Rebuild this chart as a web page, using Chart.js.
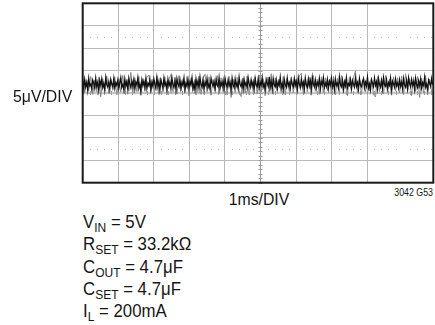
<!DOCTYPE html>
<html><head><meta charset="utf-8">
<script src="https://cdn.jsdelivr.net/npm/chart.js@4/dist/chart.umd.min.js"></script>
<style>
html,body{margin:0;padding:0;background:#fff;}
#wrap{position:relative;width:435px;height:325px;overflow:hidden;font-family:"Liberation Sans",Arial,Helvetica,sans-serif;color:#151515;}
#box{position:absolute;left:0;top:0;width:435px;height:186px;}
.lbl{position:absolute;white-space:nowrap;font-size:17px;line-height:17px;transform:scaleX(0.93);}
#ylab{transform-origin:left top;}
#xlab{transform-origin:center top;}
#code{font-size:10px;line-height:10px;transform:scaleX(0.88);transform-origin:right top;}
#cond{position:absolute;left:83px;top:211px;font-size:17.5px;line-height:22.3px;white-space:nowrap;transform:scaleX(0.96);transform-origin:left top;}
#cond sub{font-size:12.5px;vertical-align:-4px;line-height:0;}
</style></head>
<body><div id="wrap">
<div id="box"><canvas id="c"></canvas></div>
<div class="lbl" id="ylab" style="left:12.5px;top:87.5px;"></div>
<div class="lbl" id="xlab" style="left:222px;width:74px;text-align:center;top:191px;"></div>
<div class="lbl" id="code" style="right:2px;top:188px;"></div>
<div id="cond"></div>
</div>
<script>
// ---- chart text ----
const yDivLabel = "5μV/DIV";
const xDivLabel = "1ms/DIV";
const figureCode = "3042 G53";
const conditions = [
  ["V", "IN", " = 5V"],
  ["R", "SET", " = 33.2kΩ"],
  ["C", "OUT", " = 4.7μF"],
  ["C", "SET", " = 4.7μF"],
  ["I", "L", " = 200mA"]
];

// ---- scope settings (divisions) ----
const yPerDiv = 5;          // μV per division
const yDivs = [-4, 4];      // vertical divisions shown
const xDivsShown = 9.86;    // ms shown (right edge of screen)
const darkStepMs = 0.0282;  // sample interval of dark trace
const grayStepMs = 0.0564;  // sample interval of gray (peak) trace

// ---- noise trace values (μV) ----
const darkTrace = [
2.7,1.0,3.0,1.4,2.3,0.6,3.2,1.6,2.0,0.9,2.9,2.2,1.1,3.3,1.5,2.4,0.6,2.8,1.7,3.1,1.2,2.1,0.8,3.4,1.8,1.3,2.5,0.9,3.0,2.0,1.4,3.2,1.1,2.3,1.7,
2.9,1.0,2.2,3.4,1.3,1.9,0.7,3.1,1.6,2.5,0.8,3.3,2.1,1.2,2.7,1.5,3.0,0.9,2.4,1.8,3.4,1.1,2.0,0.5,2.9,1.7,2.6,1.3,3.2,1.0,2.2,1.6,3.0,0.8,2.4,
1.5,3.1,1.9,1.1,3.4,1.4,2.6,0.7,2.9,2.1,1.2,3.3,1.7,2.3,0.9,3.0,1.6,2.5,1.0,3.4,1.8,1.3,2.7,0.8,3.2,2.0,1.4,2.9,1.1,2.4,1.7,3.3,0.9,2.2,1.5,
3.0,1.2,2.5,1.8,3.4,1.0,2.1,0.6,3.1,1.6,2.7,1.1,3.5,1.9,1.3,2.9,0.8,2.4,1.7,3.2,1.2,2.0,0.9,3.3,2.2,1.5,2.6,1.0,3.0,1.8,1.4,3.4,1.1,2.3,1.6,
2.8,0.9,3.2,2.0,1.3,2.9,1.6,2.4,0.7,3.3,1.8,1.2,3.1,1.5,2.2,1.0,3.5,1.9,1.4,2.6,0.8,3.0,1.7,2.3,1.1,3.4,2.1,1.3,2.9,1.6,2.5,0.9,3.2,1.8,1.4,
3.1,1.1,2.4,1.7,3.4,1.3,2.0,0.8,3.0,2.2,1.5,3.6,1.2,2.6,0.9,3.2,1.8,1.4,2.9,1.0,2.5,1.7,3.5,1.2,2.1,0.7,3.1,1.9,1.3,3.3,1.6,2.3,1.0,2.9,2.0,
1.4,3.2,1.7,2.6,0.9,3.4,2.1,1.2,3.0,1.5,2.4,0.8,3.3,1.8,1.3,3.1,1.6,2.8,1.0,3.5,2.0,1.4,2.9,1.1,2.3,1.7,3.2,0.9,2.5,1.8,3.4,1.2,2.2,1.5,3.0,
1.0,2.6,1.8,3.3,1.3,2.4,0.8,3.1,1.7,2.2,1.1,3.6,1.9,1.4,2.9,0.9,2.5,1.6,3.4,1.2,2.1,1.7,3.0,1.0,2.8,2.0,1.3,3.3,1.5,2.3,0.8,3.2,1.8,1.4,2.6,
3.1,1.2,2.4,1.6,3.5,1.1,2.0,0.7,2.9,2.2,1.4,3.3,1.7,2.5,0.9,3.2,1.9,1.3,2.8,1.0,3.4,1.8,1.5,3.0,1.1,2.3,1.7,3.3,0.8,2.6,2.0,1.3,3.1,1.6,2.2,
1.1,2.9,1.5,2.4,0.9,3.2,1.8,1.3,2.8,1.0,3.4,2.1,1.4,3.0,1.7,2.5,0.8,3.3,1.9,1.2,2.7,1.6,3.1,1.1,2.3,1.7,3.5,1.3,2.0,0.9,2.9,2.2,1.5,3.2,1.8
];
const grayTrace = [
3.4,0.1,3.0,0.5,3.7,-0.3,2.9,0.3,3.5,-0.8,3.2,0.4,3.8,-0.1,3.1,0.6,3.6,-0.4,3.3,0.2,3.9,-0.2,3.0,0.5,4.6,
0.0,3.4,0.3,3.7,-0.5,3.2,0.4,3.5,4.0,0.1,3.1,0.5,3.8,-0.3,3.3,0.2,3.6,-0.4,3.0,4.1,0.3,3.5,-0.2,3.9,0.4,
3.2,0.0,3.7,-0.6,3.4,0.5,3.1,0.1,3.8,-0.3,3.3,4.2,0.2,3.6,-0.5,3.0,0.4,3.9,-0.2,3.4,0.3,3.2,-0.4,3.7,-1.0,
3.1,0.1,3.5,0.5,-0.8,3.3,0.0,3.8,-0.4,3.0,0.4,3.6,-0.2,3.9,0.2,3.2,-0.6,3.5,0.3,4.3,-0.3,3.4,0.5,3.1,0.1,
3.7,-0.4,3.3,0.4,3.6,0.0,3.0,0.3,3.8,4.4,-0.2,3.2,0.2,3.5,-0.5,3.9,0.4,3.1,-0.3,3.6,0.1,3.4,0.5,3.0,-0.2,
3.7,-0.4,3.3,0.3,3.9,0.0,3.1,-0.6,3.6,0.4,3.4,4.9,0.1,3.2,-0.3,3.8,0.2,3.0,0.5,3.5,-0.4,-0.9,3.7,0.3,3.3,
-0.2,3.9,0.1,3.1,-0.5,3.6,0.4,3.4,0.0,3.8,-0.3,4.3,0.2,3.2,-0.6,3.5,0.3,3.7,-1.0,3.3,0.0,3.9,-0.4,3.1,0.2
];

// ---- text ----
document.getElementById('ylab').textContent = yDivLabel;
document.getElementById('xlab').textContent = xDivLabel;
document.getElementById('code').textContent = figureCode;
const condEl = document.getElementById('cond');
conditions.forEach((c, i) => {
  if (i) condEl.appendChild(document.createElement('br'));
  condEl.appendChild(document.createTextNode(c[0]));
  const s = document.createElement('sub'); s.textContent = c[1]; condEl.appendChild(s);
  condEl.appendChild(document.createTextNode(c[2]));
});

const toPoints = (arr, dt) => arr.map((v, i) => ({x: i * dt, y: v}));

const graticule = {
  id: 'graticule',
  beforeDatasetsDraw(chart) {
    const {ctx, chartArea: a, scales: {x, y}} = chart;
    ctx.save();
    const y0 = y.getPixelForValue(0);
    const x5 = x.getPixelForValue(5);
    // center horizontal band
    ctx.strokeStyle = '#c6c6c6'; ctx.lineWidth = 2.5;
    ctx.beginPath(); ctx.moveTo(a.left, y0); ctx.lineTo(a.right, y0); ctx.stroke();
    // center vertical with minor ticks
    ctx.strokeStyle = '#9c9c9c'; ctx.lineWidth = 1;
    ctx.beginPath(); ctx.moveTo(Math.round(x5) + 0.5, a.top); ctx.lineTo(Math.round(x5) + 0.5, a.bottom); ctx.stroke();
    ctx.beginPath();
    for (let k = yDivs[0] * 5; k <= yDivs[1] * 5; k++) {
      const py = Math.round(y.getPixelForValue(k * yPerDiv / 5)) + 0.5;
      ctx.moveTo(Math.round(x5) - 1.5, py); ctx.lineTo(Math.round(x5) + 2.5, py);
    }
    for (let k = 0; k <= 50; k++) {
      const px = Math.round(x.getPixelForValue(k / 5)) + 0.5;
      if (px > a.right) break;
      ctx.moveTo(px, Math.round(y0) - 2); ctx.lineTo(px, Math.round(y0) + 2);
    }
    ctx.stroke();
    // dotted rows at +/- 2.5 div
    ctx.fillStyle = '#b8b8b8';
    [2.5, -2.5].forEach(d => {
      const py = Math.round(y.getPixelForValue(d * yPerDiv));
      for (let k = 1; k < 50; k++) {
        if (k % 5 === 0) continue;
        const px = Math.round(x.getPixelForValue(k / 5));
        if (px >= a.right) break;
        ctx.fillRect(px, py, 1, 1);
      }
    });
    ctx.restore();
  },
  afterDatasetsDraw(chart) {
    const {ctx, chartArea: a} = chart;
    ctx.save();
    ctx.strokeStyle = '#1a1a1a'; ctx.lineWidth = 2;
    ctx.strokeRect(a.left, a.top, a.right - a.left, a.bottom - a.top);
    ctx.restore();
  }
};

new Chart(document.getElementById('c'), {
  type: 'line',
  data: {
    datasets: [
      {data: toPoints(darkTrace, darkStepMs), borderColor: '#111111', borderWidth: 1.3, pointRadius: 0, tension: 0, order: 1},
      {data: toPoints(grayTrace, grayStepMs), borderColor: '#8a8a8a', borderWidth: 1, pointRadius: 0, tension: 0, order: 2}
    ]
  },
  options: {
    responsive: true, maintainAspectRatio: false, animation: false,
    layout: {padding: {left: 82.7, right: 1.7, top: 3.3, bottom: 3.3}},
    plugins: {legend: {display: false}, tooltip: {enabled: false}},
    scales: {
      x: {type: 'linear', min: 0, max: xDivsShown,
          ticks: {display: false, stepSize: 1},
          grid: {color: '#b9b9b9', lineWidth: 1, drawTicks: false},
          border: {display: false}},
      y: {type: 'linear', min: yDivs[0] * yPerDiv, max: yDivs[1] * yPerDiv,
          ticks: {display: false, stepSize: yPerDiv},
          grid: {color: '#b9b9b9', lineWidth: 1, drawTicks: false},
          border: {display: false}}
    }
  },
  plugins: [graticule]
});
</script>
</body></html>
